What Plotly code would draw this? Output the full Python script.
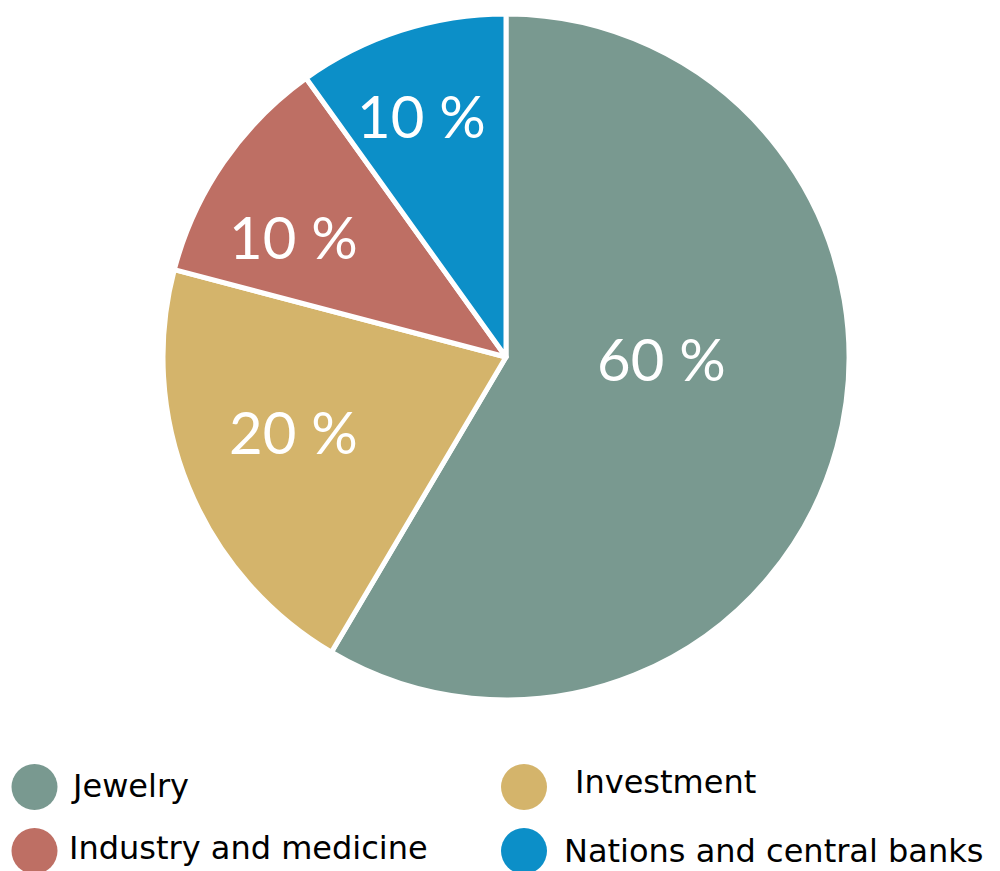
import plotly.graph_objects as go

labels = ["Jewelry", "Investment", "Industry and medicine", "Nations and central banks"]
values = [58.5, 20.6, 11.0, 9.9]
colors = ["#799990", "#D4B46B", "#BE6F64", "#0C8FC8"]
text_labels = ["60 %", "20 %", "10 %", "10 %"]

W, H = 1000, 871

fig = go.Figure()
fig.add_trace(go.Pie(
    labels=labels,
    values=values,
    textinfo="none",
    marker=dict(colors=colors, line=dict(color="white", width=5)),
    sort=False,
    direction="clockwise",
    rotation=0,
    showlegend=False,
    hoverinfo="label",
    domain=dict(x=[163 / W, 849 / W], y=[1 - 700 / H, 1 - 14 / H]),
))

# slice label placement (pixel positions in the page)
slice_label_pos = [(661, 358), (293, 431), (293, 237), (421, 116)]
for txt, (px, py) in zip(text_labels, slice_label_pos):
    fig.add_annotation(x=px / W, y=1 - py / H, xref="paper", yref="paper",
                       text=txt, showarrow=False, xanchor="center", yanchor="middle",
                       font=dict(family="Lato", size=58, color="white"))

# custom legend: circles + labels (2 columns)
legend_pos = {
    "Jewelry": (34.5, 787, 69, 786),
    "Investment": (524, 787, 573, 782),
    "Industry and medicine": (34.5, 851, 67, 848),
    "Nations and central banks": (524, 851, 562, 851),
}
r = 23
for lab, col in zip(labels, colors):
    cx, cy, tx, ty = legend_pos[lab]
    fig.add_shape(type="circle", xref="paper", yref="paper",
                  x0=(cx - r) / W, x1=(cx + r) / W,
                  y0=1 - (cy + r) / H, y1=1 - (cy - r) / H,
                  fillcolor=col, line=dict(width=0))
    fig.add_annotation(x=tx / W, y=1 - ty / H, xref="paper", yref="paper",
                       text=lab, showarrow=False, xanchor="left", yanchor="middle",
                       font=dict(family="DejaVu Sans", size=32, color="black"))

fig.update_layout(
    width=W, height=H,
    margin=dict(l=0, r=0, t=0, b=0),
    paper_bgcolor="white",
    plot_bgcolor="white",
)
fig.write_html("out.html")
